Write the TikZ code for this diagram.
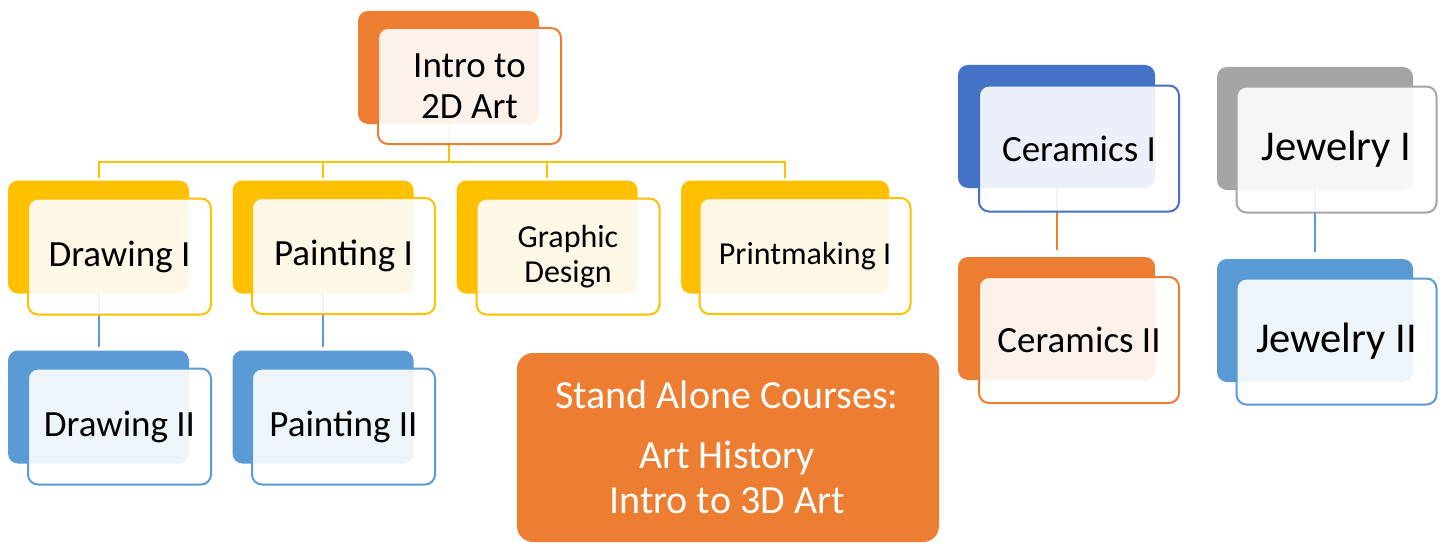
\documentclass[tikz,border=0pt]{standalone}
\usepackage{fontspec}
\setmainfont{Carlito}
\definecolor{corange}{HTML}{ED7D31}
\definecolor{cyellow}{HTML}{FFC000}
\definecolor{cblue}{HTML}{5B9BD5}
\definecolor{cdblue}{HTML}{4472C4}
\definecolor{cgrey}{HTML}{A5A5A5}
\begin{document}
\begin{tikzpicture}[x=1pt,y=-1pt,
  back/.style={rectangle, rounded corners=10pt, inner sep=0pt, outer sep=0pt, draw=none},
  front/.style={rectangle, rounded corners=10pt, inner sep=0pt, outer sep=0pt, line width=2pt,
     fill=white, fill opacity=0.9, text opacity=1, align=center, text=black},
  lb/.style={minimum width=181pt, minimum height=113pt},
  lf/.style={minimum width=183pt, minimum height=116pt},
  rb/.style={minimum width=197pt, minimum height=123pt},
  rf/.style={minimum width=200pt, minimum height=126pt},
  conn/.style={line width=2pt},
  f37/.style={font=\fontsize{37}{41}\selectfont},
  satext/.style={anchor=base, text=white, inner sep=0pt, font=\fontsize{40}{45}\selectfont},
]
\fill[white] (0,0) rectangle (1443,543);
\useasboundingbox (0,0) rectangle (1443,543);

% back boxes
\node[back, lb, fill=corange] (introB) at (448.5,67.5) {};
\node[back, lb, fill=cyellow] (d1B) at (98.5,237) {};
\node[back, lb, fill=cblue] (d2B) at (98.5,407) {};
\node[back, lb, fill=cyellow] (p1B) at (323,237) {};
\node[back, lb, fill=cblue] (p2B) at (323,407) {};
\node[back, lb, fill=cyellow] (gB) at (547,237) {};
\node[back, lb, fill=cyellow, minimum width=208pt] (prB) at (785,237) {};
\node[back, rb, fill=cdblue] (c1B) at (1056.5,126.5) {};
\node[back, rb, fill=corange] (c2B) at (1056.5,318.5) {};
\node[back, rb, fill=cgrey, minimum width=196pt] (j1B) at (1315,128.5) {};
\node[back, rb, fill=cblue, minimum width=196pt] (j2B) at (1315,320.5) {};

% connectors
\coordinate (bus) at (448.5,162);
\draw[conn, cyellow] (introB.south) -- (bus);
\foreach \c in {d1B,p1B,gB,prB}{
  \draw[conn, cyellow, shorten >=3pt] (bus) -| (\c.north);
}
\draw[conn, cblue, shorten >=4pt] (d1B.south) -- (d2B.north);
\draw[conn, cblue, shorten >=4pt] (p1B.south) -- (p2B.north);
\draw[conn, corange, shorten >=7pt] (c1B.south) -- (c2B.north);
\draw[conn, cblue, shorten >=7pt] (j1B.south) -- (j2B.north);

% front boxes
\node[front, lf, draw=corange, f37] (intro) at (469.5,86) {Intro to\\2D Art};
\node[front, lf, draw=cyellow, f37] (d1) at (119.5,256.5) {Drawing I};
\node[front, lf, draw=cblue, f37] (d2) at (119.5,426.5) {Drawing II};
\node[front, lf, draw=cyellow, f37] (p1) at (343.5,256) {Painting I};
\node[front, lf, draw=cblue, f37] (p2) at (343.5,426.5) {Painting II};
\node[front, lf, draw=cyellow, font=\fontsize{32}{35}\selectfont] (g) at (568,256.5) {Graphic\\Design};
\node[front, lf, draw=cyellow, minimum width=211pt, font=\fontsize{32}{36}\selectfont] (pr) at (805,256) {Printmaking I};
\node[front, rf, draw=cdblue, font=\fontsize{37}{41}\selectfont] (c1) at (1079,148.5) {Ceramics I};
\node[front, rf, draw=corange, font=\fontsize{37}{41}\selectfont] (c2) at (1079,340) {Ceramics II};
\node[front, rf, draw=cgrey, font=\fontsize{42.5}{46}\selectfont] (j1) at (1336.5,149.5) {Jewelry I};
\node[front, rf, draw=cblue, font=\fontsize{42.5}{46}\selectfont] (j2) at (1336.5,341.5) {Jewelry II};

% stand alone box
\node[rectangle, rounded corners=16pt, fill=corange, inner sep=0pt, minimum width=422pt, minimum height=189pt] (sa) at (728,447.5) {};
\node[satext] (sa1) at (727,408) {Stand Alone Courses:};
\node[satext] (sa2) at (727,468) {Art History};
\node[satext] (sa3) at (727,513) {Intro to 3D Art};
\end{tikzpicture}
\end{document}
